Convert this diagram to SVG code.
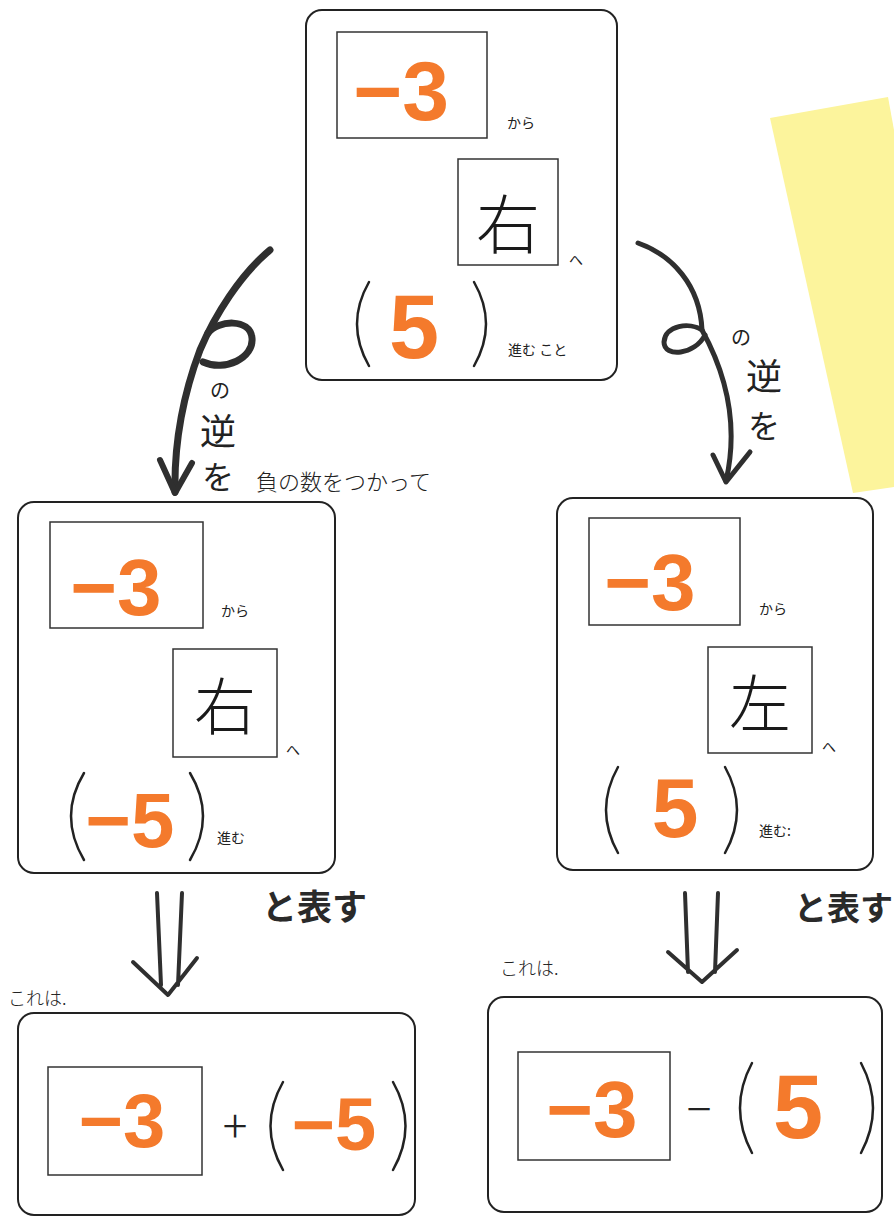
<svg xmlns="http://www.w3.org/2000/svg" width="894" height="1217" viewBox="0 0 894 1217">
<style>
.card{fill:none;stroke:#222;stroke-width:2}
.box{fill:none;stroke:#333;stroke-width:1.5}
.num{font-family:"Liberation Sans","Noto Sans",sans-serif;font-weight:bold;fill:#f47a2c;text-anchor:middle}
.kanji{font-family:"Noto Sans CJK JP",sans-serif;font-weight:300;fill:#1a1a1a;text-anchor:middle;dominant-baseline:central}
.small{font-family:"Noto Sans CJK JP",sans-serif;fill:#222;font-size:14px}
.hand{font-family:"Noto Sans CJK JP",sans-serif;fill:#222}
.brush{font-family:"Noto Sans CJK JP",sans-serif;font-weight:bold;fill:#2a2a2a}
.paren{fill:none;stroke:#222;stroke-width:2.5;stroke-linecap:round}
.conn{fill:none;stroke:#2f2f2f;stroke-linecap:round;stroke-linejoin:round}
</style>
<rect width="894" height="1217" fill="#ffffff"/>
<polygon points="770,118 888,97 894,130 894,487 853,493" fill="#fcf49c"/>

<g id="node-top">
<rect class="card" x="306" y="10" width="311" height="370" rx="16"/>
<rect class="box" x="337" y="32" width="150" height="106"/>
<text class="num" x="401" y="120" font-size="84">−3</text>
<text class="small" x="507" y="128">から</text>
<rect class="box" x="458" y="159" width="100" height="106"/>
<text class="kanji" x="508" y="220" font-size="64">右</text>
<text class="small" x="569" y="265" font-size="16">へ</text>
<path class="paren" d="M369,282 Q345,324 369,366"/>
<path class="paren" d="M474,282 Q498,324 474,366"/>
<text class="num" x="414" y="358" font-size="90">5</text>
<text class="small" x="508" y="355">進む こと</text>
</g>

<g id="node-left">
<rect class="card" x="18" y="502" width="317" height="371" rx="16"/>
<rect class="box" x="50" y="522" width="153" height="106"/>
<text class="num" x="116" y="615" font-size="80">−3</text>
<text class="small" x="221" y="616">から</text>
<rect class="box" x="173" y="649" width="104" height="108"/>
<text class="kanji" x="225" y="703" font-size="62">右</text>
<text class="small" x="286" y="755" font-size="16">へ</text>
<path class="paren" d="M84,773 Q58,816 84,860"/>
<path class="paren" d="M190,773 Q216,816 190,860"/>
<text class="num" x="130" y="847" font-size="78">−5</text>
<text class="small" x="217" y="843">進む</text>
</g>

<g id="node-right">
<rect class="card" x="557" y="498" width="316" height="372" rx="16"/>
<rect class="box" x="589" y="518" width="151" height="107"/>
<text class="num" x="650" y="610" font-size="80">−3</text>
<text class="small" x="759" y="614">から</text>
<rect class="box" x="708" y="647" width="104" height="106"/>
<text class="kanji" x="760" y="700" font-size="62">左</text>
<text class="small" x="822" y="752" font-size="16">へ</text>
<path class="paren" d="M618,767 Q594,810 618,853"/>
<path class="paren" d="M725,767 Q749,810 725,853"/>
<text class="num" x="675" y="837" font-size="84">5</text>
<text class="small" x="759" y="836">進む:</text>
</g>

<g id="node-bottom-left">
<rect class="card" x="18" y="1013" width="397" height="202" rx="16"/>
<rect class="box" x="48" y="1067" width="154" height="108"/>
<text class="num" x="122" y="1147" font-size="76">−3</text>
<text class="hand" x="235" y="1143" font-size="46" font-weight="300" text-anchor="middle">+</text>
<path class="paren" d="M283,1082 Q258,1126 283,1170"/>
<path class="paren" d="M393,1082 Q418,1126 393,1170"/>
<text class="num" x="334" y="1150" font-size="74">−5</text>
</g>

<g id="node-bottom-right">
<rect class="card" x="488" y="997" width="394" height="215" rx="16"/>
<rect class="box" x="518" y="1052" width="152" height="108"/>
<text class="num" x="592" y="1137" font-size="80">−3</text>
<text class="hand" x="699" y="1126" font-size="46" font-weight="300" text-anchor="middle">−</text>
<path class="paren" d="M752,1063 Q728,1108 752,1153"/>
<path class="paren" d="M861,1063 Q885,1108 861,1153"/>
<text class="num" x="798" y="1138" font-size="90">5</text>
</g>

<g id="connectors">
<path class="conn" stroke-width="7" d="M270,250 C240,275 215,315 200,350 C185,390 174,440 175,492"/>
<path class="conn" stroke-width="7" d="M208,333 C218,320 250,318 252,338 C254,358 225,372 203,362"/>
<path class="conn" stroke-width="6" d="M160,460 L175,493 L192,463"/>
<path class="conn" stroke-width="5" d="M638,243 C672,255 700,285 702,330 C724,370 740,420 726,481"/>
<path class="conn" stroke-width="5" d="M702,330 C690,322 665,325 664,342 C664,358 695,355 705,335"/>
<path class="conn" stroke-width="5" d="M713,455 L726,482 L750,452"/>
<path class="conn" stroke-width="4" d="M157,893 L161,985 M182,893 L178,985 M133,962 L168,995 L197,958"/>
<path class="conn" stroke-width="4" d="M685,893 L688,972 M718,893 L715,972 M668,952 L702,982 L737,950"/>
</g>

<g id="labels">
<text class="hand" x="220" y="398" font-size="20" text-anchor="middle">の</text>
<text class="hand" x="218" y="445" font-size="36" text-anchor="middle">逆</text>
<text class="hand" x="218" y="489" font-size="32" text-anchor="middle">を</text>
<text class="hand" x="256" y="490" font-size="22" font-weight="300">負の数をつかって</text>
<text class="hand" x="741" y="345" font-size="20" text-anchor="middle">の</text>
<text class="hand" x="764" y="390" font-size="36" text-anchor="middle">逆</text>
<text class="hand" x="764" y="438" font-size="32" text-anchor="middle">を</text>
<text class="brush" x="262" y="920" font-size="35">と表す</text>
<text class="brush" x="794" y="920" font-size="33">と表す</text>
<text class="hand" x="8" y="1005" font-size="18" font-weight="300">これは.</text>
<text class="hand" x="500" y="975" font-size="18" font-weight="300">これは.</text>
</g>
</svg>
